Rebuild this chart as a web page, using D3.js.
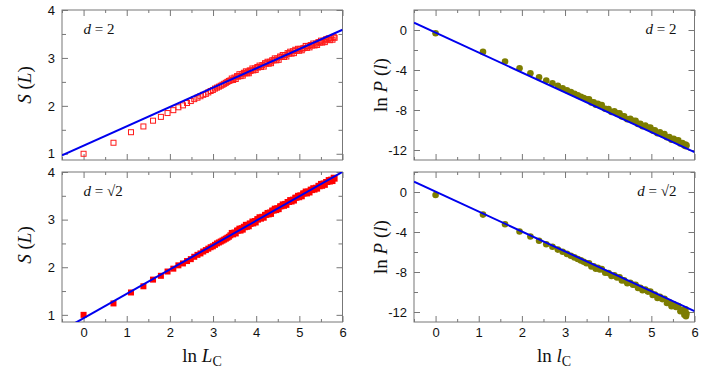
<!DOCTYPE html>
<html>
<head>
<meta charset="utf-8">
<script src="https://cdn.jsdelivr.net/npm/d3@7"></script>
<style>
  body { margin: 0; background: #fff; }
  .tick text { font-family: "Liberation Sans", Arial, sans-serif; font-size: 13px; fill: #111; }
  .tick line { stroke: #777; }
  .title { font-family: "Liberation Serif", "Times New Roman", serif; fill: #111; }
</style>
</head>
<body>
<svg width="708" height="376"></svg>
<script>
// cluster size L (left panels) and odd lengths l (right panels)
var sizesL = [1,2,3,4,5,6,7,8,9,10,11,12,13,14,15,16,17,18,19,20,21,22,23,24,25,26,27,28,29,
  30,31,32,33,34,35,36,37,38,39,40,41,42,43,44,45,46,47,48,
  50,51,53,54,56,57,59,61,63,65,67,69,71,73,75,77,79,
  82,84,87,89,92,95,98,101,104,107,110,113,117,120,124,128,131,135,139,144,148,152,157,162,167,
  172,177,182,188,193,199,205,211,218,224,231,238,245,252,260,268,276,284,293,301,310,320,329,336];
var sD2 = [1.00,1.23,1.45,1.57,1.69,1.77,1.85,1.91,1.97,2.01,2.06,2.10,2.14,2.17,2.20,2.23,
  2.25,2.28,2.31,2.33,2.36,2.38,2.40,2.42,2.44,2.46,2.48,2.50,2.52,
  2.53,2.57,2.54,2.59,2.56,2.62,2.61,2.66,2.62,2.66,2.63,2.69,2.68,2.72,2.68,2.71,2.68,2.74,2.73,
  2.78,2.74,2.78,2.75,2.81,2.80,2.84,2.81,2.85,2.82,2.89,2.88,2.92,2.88,2.92,2.89,2.95,
  2.95,2.99,2.95,2.99,2.96,3.03,3.02,3.06,3.02,3.06,3.03,3.10,3.09,3.13,3.09,3.14,3.10,3.17,3.15,3.19,3.15,3.19,3.16,3.20,3.21,
  3.25,3.21,3.25,3.22,3.27,3.26,3.30,3.26,3.30,3.27,3.33,3.32,3.36,3.32,3.36,3.33,3.39,3.38,3.41,3.37,3.41,3.38,3.44,3.42];
var sSqrt2 = [1.00,1.24,1.47,1.60,1.74,1.82,1.91,1.97,2.04,2.08,2.13,2.17,2.22,2.26,2.29,2.33,
  2.36,2.39,2.42,2.44,2.47,2.50,2.52,2.54,2.56,2.58,2.60,2.62,2.64,
  2.67,2.72,2.69,2.73,2.71,2.77,2.77,2.81,2.77,2.82,2.79,2.85,2.84,2.89,2.85,2.89,2.86,2.92,2.91,
  2.96,2.92,2.97,2.94,3.01,3.00,3.05,3.02,3.06,3.04,3.10,3.10,3.14,3.11,3.15,3.12,3.19,
  3.19,3.23,3.20,3.24,3.22,3.28,3.28,3.32,3.29,3.33,3.31,3.37,3.37,3.41,3.38,3.42,3.40,3.46,3.46,3.50,3.47,3.51,3.49,3.55,3.55,
  3.59,3.55,3.59,3.57,3.63,3.62,3.66,3.63,3.67,3.65,3.71,3.70,3.75,3.71,3.76,3.73,3.79,3.79,3.83,3.80,3.84,3.81,3.88,3.86];

var lengthsl = [1,3,5,7,9,11,13,15,17,19,21,23,25,27,29,31,
  33,35,37,39,41,43,45,47,51,55,59,63,67,71,75,79,85,91,97,103,109,115,121,129,
  137,145,153,161,171,181,191,201,213,225,237,249,263,277,291,305,319,327,331,335];
var lnPD2 = [-0.33,-2.19,-3.16,-3.82,-4.32,-4.72,-5.05,-5.33,-5.59,-5.82,-6.02,-6.20,-6.37,-6.53,-6.67,-6.80,
  -6.93,-6.93,-7.24,-7.22,-7.48,-7.38,-7.55,-7.51,-7.87,-7.91,-8.20,-8.14,-8.34,-8.33,-8.64,-8.63,
  -8.93,-8.87,-9.07,-9.07,-9.39,-9.37,-9.63,-9.56,
  -9.76,-9.75,-10.06,-10.04,-10.32,-10.24,-10.42,-10.40,-10.72,-10.71,-10.97,-10.87,-11.06,-11.04,-11.34,-11.31,
  -11.56,-11.45,-11.62,-11.52];
var lnPSqrt2 = [-0.30,-2.26,-3.22,-3.95,-4.45,-4.88,-5.22,-5.48,-5.76,-5.98,-6.19,-6.37,-6.54,-6.70,-6.84,-6.98,
  -7.13,-7.13,-7.44,-7.42,-7.68,-7.58,-7.75,-7.71,-8.07,-8.11,-8.40,-8.34,-8.54,-8.53,-8.84,-8.83,
  -9.13,-9.07,-9.27,-9.27,-9.59,-9.57,-9.83,-9.76,
  -9.96,-9.95,-10.29,-10.26,-10.60,-10.48,-10.71,-10.67,-11.09,-11.04,-11.43,-11.22,-11.50,-11.41,-11.92,-11.80,
  -12.28,-11.72,-12.42,-12.18];

// straight line fits [intercept, slope]
var fitSD2 = [1.17, 0.403];
var fitSSqrt2 = [0.93, 0.512];
var fitPD2 = [-0.27, -1.99];
var fitPSqrt2 = [0.03, -1.99];

var xTicks = [0,1,2,3,4,5,6];
var xMinor = [-0.5,0.5,1.5,2.5,3.5,4.5,5.5];
var sTicks = [1,2,3,4];
var sMinor = [1.5,2.5,3.5];
var pTicks = [0,-4,-8,-12];
var pMinor = [2,-2,-6,-10];

var svg = d3.select("svg");
svg.append("rect").attr("width", 708).attr("height", 376).attr("fill", "#fff");

function panel(opt) {
  var x = d3.scaleLinear().domain([-0.5, 6]).range([opt.left, opt.left + 280.5]);
  var y = d3.scaleLinear().domain(opt.ydom).range([opt.top + 150, opt.top]);
  var g = svg.append("g");
  var id = "clip" + opt.name;
  svg.append("clipPath").attr("id", id).append("rect")
     .attr("x", x.range()[0]).attr("y", opt.top).attr("width", 280.5).attr("height", 150);

  var fmt = function(d) { return String(d); };
  var none = function() { return ""; };
  var axes = [
    g.append("g").attr("transform", "translate(0," + (opt.top + 150) + ")")
     .call(d3.axisBottom(x).tickValues(xTicks).tickSize(-6).tickPadding(6).tickFormat(opt.xlabels ? fmt : none)),
    g.append("g").attr("transform", "translate(0," + (opt.top + 150) + ")")
     .call(d3.axisBottom(x).tickValues(xMinor).tickSize(-3).tickFormat(none)),
    g.append("g").attr("transform", "translate(0," + opt.top + ")")
     .call(d3.axisTop(x).tickValues(xTicks).tickSize(-6).tickFormat(none)),
    g.append("g").attr("transform", "translate(0," + opt.top + ")")
     .call(d3.axisTop(x).tickValues(xMinor).tickSize(-3).tickFormat(none)),
    g.append("g").attr("transform", "translate(" + x.range()[0] + ",0)")
     .call(d3.axisLeft(y).tickValues(opt.yticks).tickSize(-6).tickPadding(7).tickFormat(fmt)),
    g.append("g").attr("transform", "translate(" + x.range()[0] + ",0)")
     .call(d3.axisLeft(y).tickValues(opt.yminor).tickSize(-4).tickFormat(none)),
    g.append("g").attr("transform", "translate(" + x.range()[1] + ",0)")
     .call(d3.axisRight(y).tickValues(opt.yticks).tickSize(-6).tickFormat(none)),
    g.append("g").attr("transform", "translate(" + x.range()[1] + ",0)")
     .call(d3.axisRight(y).tickValues(opt.yminor).tickSize(-4).tickFormat(none))
  ];
  axes.forEach(function(a) { a.select(".domain").remove(); a.selectAll("text").attr("font-family", null).attr("font-size", null); });

  g.append("rect").attr("x", x.range()[0]).attr("y", opt.top)
   .attr("width", 280.5).attr("height", 150)
   .attr("fill", "none").attr("stroke", "#777").attr("stroke-width", 1);

  var pts = opt.xs.map(function(v, i) { return { x: Math.log(v), y: opt.ys[i] }; });
  var marks = g.append("g").attr("clip-path", "url(#" + id + ")");
  if (opt.mark === "open") {
    marks.selectAll("rect").data(pts).enter().append("rect")
      .attr("x", function(d) { return x(d.x) - 2.5; }).attr("y", function(d) { return y(d.y) - 2.5; })
      .attr("width", 5).attr("height", 5)
      .attr("fill", "none").attr("stroke", "#ff1a1a").attr("stroke-width", 1);
  } else if (opt.mark === "filled") {
    marks.selectAll("rect").data(pts).enter().append("rect")
      .attr("x", function(d) { return x(d.x) - 3; }).attr("y", function(d) { return y(d.y) - 3; })
      .attr("width", 6).attr("height", 6).attr("fill", "#ff0000");
  } else {
    marks.selectAll("circle").data(pts).enter().append("circle")
      .attr("cx", function(d) { return x(d.x); }).attr("cy", function(d) { return y(d.y); })
      .attr("r", 3.3).attr("fill", "#7d7d00");
  }

  var line = d3.line().x(function(d) { return x(d); }).y(function(d) { return y(opt.fit[0] + opt.fit[1] * d); });
  marks.append("path").datum(x.domain()).attr("d", line)
    .attr("fill", "none").attr("stroke", "#0000ee").attr("stroke-width", 2);

  var lab = g.append("text").attr("class", "title").attr("font-size", 15)
    .attr("y", opt.top + 24);
  if (opt.labelRight) lab.attr("x", x.range()[1] - 18).attr("text-anchor", "end");
  else lab.attr("x", x(0)).attr("text-anchor", "start");
  lab.append("tspan").attr("font-style", "italic").text("d");
  lab.append("tspan").text(opt.dlabel);
  return { x: x, y: y };
}

panel({ name: "a", left: 62, top: 10, ydom: [0.87, 4], yticks: sTicks, yminor: sMinor,
        xs: sizesL, ys: sD2, fit: fitSD2, mark: "open", dlabel: " = 2", xlabels: false });
panel({ name: "b", left: 62, top: 172, ydom: [0.85, 4], yticks: sTicks, yminor: sMinor,
        xs: sizesL, ys: sSqrt2, fit: fitSSqrt2, mark: "filled", dlabel: " = \u221A2", xlabels: true });
panel({ name: "c", left: 414, top: 10, ydom: [-13, 2], yticks: pTicks, yminor: pMinor,
        xs: lengthsl, ys: lnPD2, fit: fitPD2, mark: "dot", dlabel: " = 2", xlabels: false, labelRight: true });
panel({ name: "d", left: 414, top: 172, ydom: [-13, 2], yticks: pTicks, yminor: pMinor,
        xs: lengthsl, ys: lnPSqrt2, fit: fitPSqrt2, mark: "dot", dlabel: " = \u221A2", xlabels: true, labelRight: true });

// axis titles
function yTitle(cx, cy, first, inner) {
  var t = svg.append("text").attr("class", "title").attr("font-size", 19)
    .attr("text-anchor", "middle").attr("transform", "translate(" + cx + "," + cy + ") rotate(-90)");
  if (first) t.append("tspan").text(first);
  t.append("tspan").attr("font-style", "italic").text(inner[0]);
  t.append("tspan").text(" (");
  t.append("tspan").attr("font-style", "italic").text(inner[1]);
  t.append("tspan").text(")");
}
yTitle(31, 85, null, ["S", "L"]);
yTitle(31, 245, null, ["S", "L"]);
yTitle(387, 85, "ln ", ["P", "l"]);
yTitle(387, 247, "ln ", ["P", "l"]);

function xTitle(cx, sym) {
  var t = svg.append("text").attr("class", "title").attr("font-size", 19)
    .attr("text-anchor", "middle").attr("x", cx).attr("y", 362);
  t.append("tspan").text("ln ");
  t.append("tspan").attr("font-style", "italic").text(sym);
  t.append("tspan").attr("font-size", 14).attr("dy", 4).text("C");
}
xTitle(202, "L");
xTitle(554, "l");
</script>
</body>
</html>
